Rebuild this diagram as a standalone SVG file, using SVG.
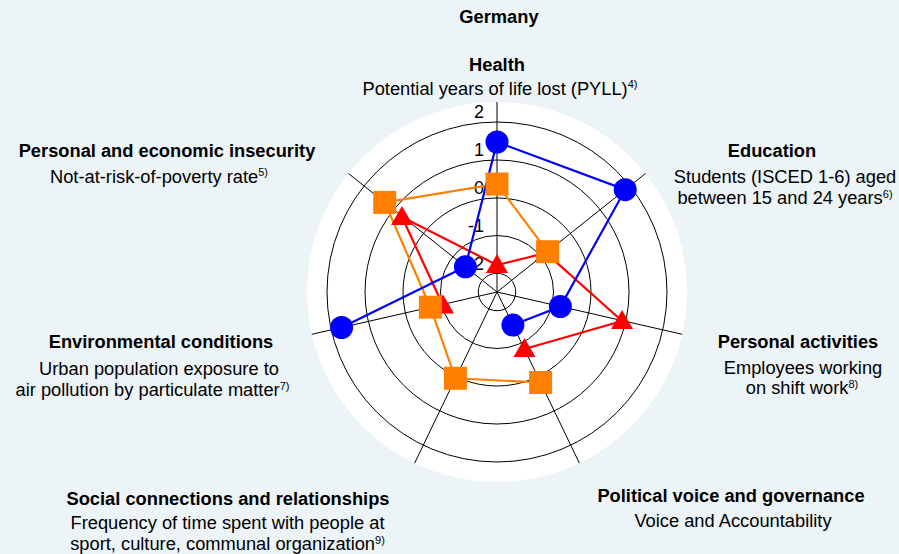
<svg xmlns="http://www.w3.org/2000/svg" width="899" height="554" viewBox="0 0 899 554">
<style>
text{font-family:"Liberation Sans",Arial,sans-serif;fill:#000;font-size:18.3px}
.b{font-weight:bold}
.m{text-anchor:middle}
.tick{font-size:18px;text-anchor:end}
.sup{font-size:11px}
.ring{fill:none;stroke:#000;stroke-width:1}
.axis{stroke:#000;stroke-width:1}
.blue{fill:none;stroke:#0000FF;stroke-width:2.2}
.orange{fill:none;stroke:#FF8000;stroke-width:2.2}
.red{fill:none;stroke:#FF0000;stroke-width:2.2}
.bm{fill:#0000FF}
.om{fill:#FF8000}
.rm{fill:#FF0000}
</style>
<defs>
<circle id="dot" r="11.5"/>
<rect id="sq" x="-11.5" y="-11.5" width="23" height="23"/>
<polygon id="tri" points="0,-11 11,8 -11,8"/>
</defs>
<rect width="899" height="554" fill="#ECF4F8"/>
<text class="b m" x="499" y="23">Germany</text>

<g id="chart-grid">
<circle cx="497" cy="292" r="190" fill="#FFFFFF"/>
<circle class="ring" cx="497" cy="292" r="18.7"/>
<circle class="ring" cx="497" cy="292" r="56.5"/>
<circle class="ring" cx="497" cy="292" r="94"/>
<circle class="ring" cx="497" cy="292" r="132"/>
<circle class="ring" cx="497" cy="292" r="170"/>
<line class="axis" x1="497" y1="292" x2="497" y2="102"/>
<line class="axis" x1="497" y1="292" x2="645.5" y2="173.5"/>
<line class="axis" x1="497" y1="292" x2="682.2" y2="334.3"/>
<line class="axis" x1="497" y1="292" x2="579.4" y2="463.2"/>
<line class="axis" x1="497" y1="292" x2="414.6" y2="463.2"/>
<line class="axis" x1="497" y1="292" x2="311.8" y2="334.3"/>
<line class="axis" x1="497" y1="292" x2="348.5" y2="173.5"/>
<text class="tick" x="484" y="118">2</text>
<text class="tick" x="484" y="156">1</text>
<text class="tick" x="484" y="194">0</text>
<text class="tick" x="484" y="232">-1</text>
<text class="tick" x="484" y="270">-2</text>
</g>

<g id="health">
<text class="b m" x="497" y="71">Health</text>
<text class="m" x="500" y="95">Potential years of life lost (PYLL)<tspan class="sup" dy="-7">4)</tspan></text>
</g>
<g id="education">
<text class="b m" x="772" y="157">Education</text>
<text class="m" x="785" y="183">Students (ISCED 1-6) aged</text>
<text class="m" x="785" y="204">between 15 and 24 years<tspan class="sup" dy="-6">6)</tspan></text>
</g>
<g id="personal-activities">
<text class="b m" x="798" y="348">Personal activities</text>
<text class="m" x="803" y="374">Employees working</text>
<text class="m" x="802" y="394">on shift work<tspan class="sup" dy="-6">8)</tspan></text>
</g>
<g id="political-voice">
<text class="b m" x="731" y="502">Political voice and governance</text>
<text class="m" x="733" y="527">Voice and Accountability</text>
</g>
<g id="social-connections">
<text class="b m" x="228" y="505">Social connections and relationships</text>
<text class="m" x="227.5" y="529">Frequency of time spent with people at</text>
<text class="m" x="227.5" y="550">sport, culture, communal organization<tspan class="sup" dy="-6">9)</tspan></text>
</g>
<g id="environmental-conditions">
<text class="b m" x="161" y="348">Environmental conditions</text>
<text class="m" x="159" y="375">Urban population exposure to</text>
<text class="m" x="152.5" y="396">air pollution by particulate matter<tspan class="sup" dy="-6">7)</tspan></text>
</g>
<g id="personal-insecurity">
<text class="b m" x="167" y="157">Personal and economic insecurity</text>
<text class="m" x="159" y="183">Not-at-risk-of-poverty rate<tspan class="sup" dy="-7">5)</tspan></text>
</g>

<g id="connectors">
<polyline class="red" points="402,217 497,265 546,253 622,321 524.5,349"/>
<polyline class="red" points="443,305.5 402,217"/>
<polyline class="orange" points="540.6,382.5 455.4,378.3 430.4,307.2 384.7,202.4 497,184 547.6,251.7"/>
<polyline class="blue" points="341.6,327.5 465.4,266.8 497,142 625.2,189.7 560.4,306.5 512.9,325.1"/>
</g>

<g id="series-red" class="rm">
<use href="#tri" x="497" y="265"/>
<use href="#tri" x="546" y="253"/>
<use href="#tri" x="622" y="321"/>
<use href="#tri" x="524.5" y="349"/>
<use href="#tri" x="443" y="305.5"/>
<use href="#tri" x="402" y="217"/>
</g>
<g id="series-orange" class="om">
<use href="#sq" x="497" y="184"/>
<use href="#sq" x="547.6" y="251.7"/>
<use href="#sq" x="540.6" y="382.5"/>
<use href="#sq" x="455.4" y="378.3"/>
<use href="#sq" x="430.4" y="307.2"/>
<use href="#sq" x="384.7" y="202.4"/>
</g>
<g id="series-blue" class="bm">
<use href="#dot" x="497" y="142"/>
<use href="#dot" x="625.2" y="189.7"/>
<use href="#dot" x="560.4" y="306.5"/>
<use href="#dot" x="512.9" y="325.1"/>
<use href="#dot" x="341.6" y="327.5"/>
<use href="#dot" x="465.4" y="266.8"/>
</g>
</svg>
